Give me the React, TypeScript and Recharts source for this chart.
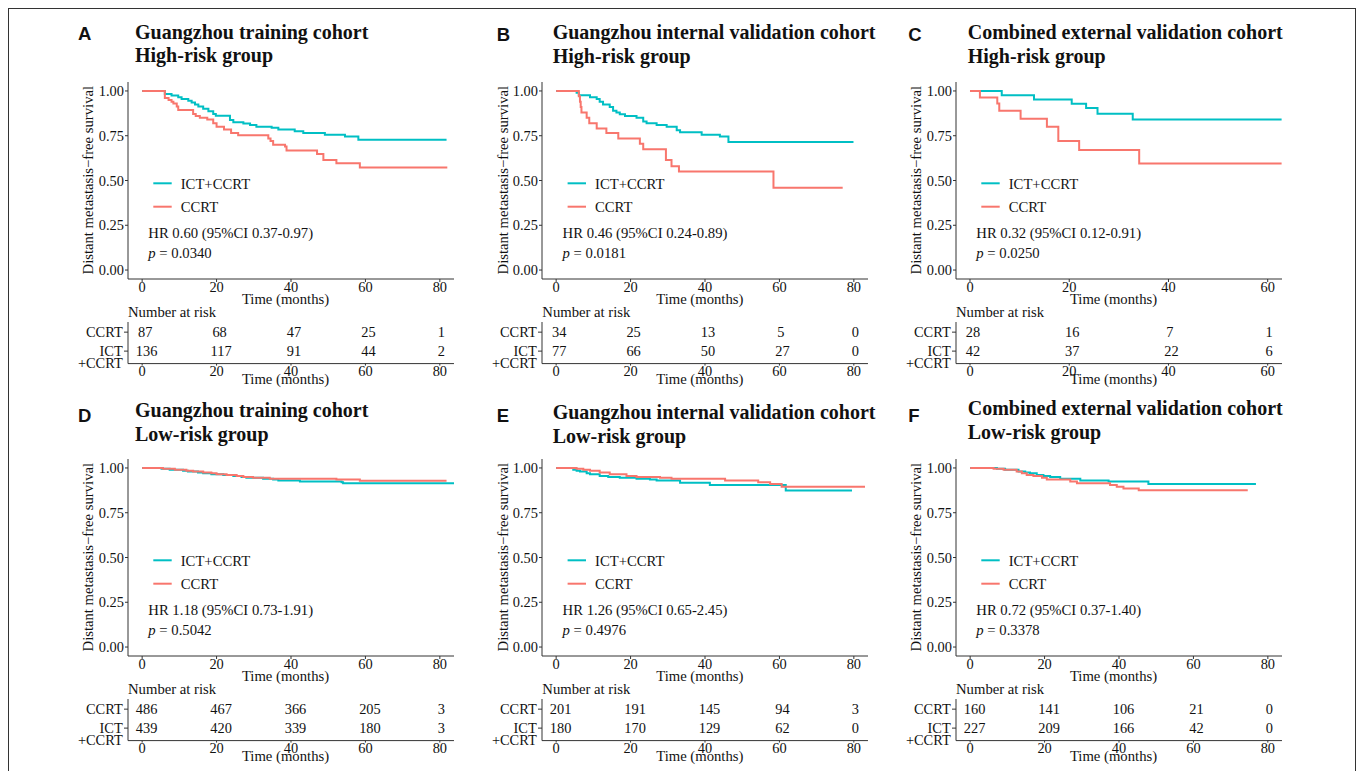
import React from 'react';
import { LineChart, Line, XAxis, YAxis, ScatterChart, Scatter } from 'recharts';

// ---- data ----
const groups = ['ICT+CCRT', 'CCRT'];
const groupColors = ['#00BFC4', '#F8766D'];
const survTicks = [0, 0.25, 0.5, 0.75, 1];
const months80 = [0, 20, 40, 60, 80];
const months60 = [0, 20, 40, 60];

// Kaplan-Meier steps: [time (months), survival]
const kmA_ict = [[0, 1], [6.1, 0.983], [7.9, 0.974], [9.7, 0.965], [10.6, 0.955], [12.4, 0.946], [13.3, 0.935], [14.2, 0.924], [15.1, 0.913], [16.4, 0.9], [17.8, 0.887], [19.1, 0.872], [19.8, 0.862], [23.6, 0.838], [24.5, 0.825], [27.2, 0.818], [29, 0.81], [30.7, 0.8], [34.8, 0.795], [36.6, 0.785], [41, 0.775], [43.3, 0.765], [49.1, 0.755], [54.5, 0.745], [58.1, 0.727], [81.8, 0.727]];
const kmA_ccrt = [[0, 1], [6.1, 0.96], [7.1, 0.95], [7.9, 0.94], [8.4, 0.93], [9.3, 0.913], [9.7, 0.894], [13.7, 0.872], [14.4, 0.86], [15.5, 0.85], [17.5, 0.84], [19.1, 0.82], [20, 0.8], [22, 0.785], [23.9, 0.765], [25.8, 0.752], [33.9, 0.735], [34.5, 0.72], [35.2, 0.7], [38.4, 0.69], [38.8, 0.667], [47, 0.648], [48.7, 0.615], [52.2, 0.597], [58.5, 0.572], [82, 0.572]];

const kmB_ict = [[0, 1], [5.5, 0.99], [6.1, 0.976], [9.1, 0.965], [10.9, 0.955], [11.7, 0.94], [12.6, 0.925], [14.4, 0.91], [15.3, 0.89], [16.2, 0.88], [17.1, 0.87], [18.5, 0.86], [21.6, 0.85], [23.4, 0.83], [24.3, 0.82], [27, 0.81], [29.7, 0.8], [32.4, 0.78], [33.3, 0.77], [39.1, 0.755], [44, 0.745], [46.3, 0.715], [79.9, 0.715]];
const kmB_ccrt = [[0, 1], [6.1, 0.97], [6.4, 0.94], [6.6, 0.91], [6.8, 0.88], [8.2, 0.85], [8.9, 0.82], [10.9, 0.79], [13.5, 0.765], [16.7, 0.735], [22.5, 0.705], [23.4, 0.675], [29.5, 0.615], [31, 0.58], [33, 0.55], [58.4, 0.46], [77, 0.46]];

const kmC_ict = [[0, 1], [6.4, 0.976], [12.9, 0.952], [20.5, 0.928], [23.4, 0.905], [25.7, 0.873], [32.8, 0.84], [62.8, 0.84]];
const kmC_ccrt = [[0, 1], [2, 0.964], [5.5, 0.93], [5.9, 0.89], [10.2, 0.845], [15.5, 0.8], [17.8, 0.72], [22, 0.67], [34.1, 0.595], [62.8, 0.595]];

const kmD_ict = [[0, 1], [5.2, 0.995], [7.4, 0.99], [11, 0.985], [12.3, 0.98], [15, 0.975], [16.4, 0.97], [18.6, 0.965], [21.8, 0.96], [24.5, 0.955], [26.7, 0.95], [28, 0.945], [32.5, 0.94], [35.2, 0.935], [36.6, 0.93], [42.4, 0.925], [53.6, 0.92], [54, 0.915], [83.8, 0.915]];
const kmD_ccrt = [[0, 1], [5.6, 0.995], [8.8, 0.99], [11.9, 0.985], [13.7, 0.98], [16.4, 0.975], [18.6, 0.97], [20, 0.965], [22.7, 0.96], [25.4, 0.955], [27.2, 0.95], [29.8, 0.945], [34.3, 0.94], [52.2, 0.935], [58.5, 0.928], [81.8, 0.928]];

const kmE_ict = [[0, 1], [4.6, 0.99], [5.5, 0.985], [6.4, 0.98], [8.2, 0.97], [9.1, 0.965], [11.7, 0.955], [14, 0.95], [17.1, 0.945], [21.6, 0.94], [25.2, 0.935], [27, 0.93], [33.3, 0.918], [41.3, 0.905], [61.7, 0.874], [79.5, 0.874]];
const kmE_ccrt = [[0, 1], [5.5, 0.995], [7.3, 0.99], [9.1, 0.985], [11.7, 0.975], [14.4, 0.965], [18.9, 0.955], [21.6, 0.95], [27.9, 0.945], [31, 0.94], [45.4, 0.93], [54.3, 0.92], [57.5, 0.91], [60.6, 0.895], [83, 0.895]];

const kmF_ict = [[0, 1], [7.2, 0.995], [9.4, 0.99], [13, 0.98], [14.8, 0.975], [16.1, 0.97], [17.9, 0.96], [19.7, 0.955], [21.5, 0.95], [24.2, 0.94], [29.6, 0.93], [37.2, 0.925], [47.9, 0.91], [76.8, 0.91]];
const kmF_ccrt = [[0, 1], [6.3, 0.995], [9, 0.99], [12.5, 0.98], [13.9, 0.97], [15.2, 0.96], [17, 0.955], [19.3, 0.945], [20.6, 0.935], [26.9, 0.925], [28.7, 0.915], [37.6, 0.905], [39.4, 0.895], [41.2, 0.885], [45.3, 0.875], [74.6, 0.875]];

// numbers at risk, at months80 / months60
const riskA_ccrt = [87, 68, 47, 25, 1];
const riskA_ict = [136, 117, 91, 44, 2];
const riskB_ccrt = [34, 25, 13, 5, 0];
const riskB_ict = [77, 66, 50, 27, 0];
const riskC_ccrt = [28, 16, 7, 1];
const riskC_ict = [42, 37, 22, 6];
const riskD_ccrt = [486, 467, 366, 205, 3];
const riskD_ict = [439, 420, 339, 180, 3];
const riskE_ccrt = [201, 191, 145, 94, 3];
const riskE_ict = [180, 170, 129, 62, 0];
const riskF_ccrt = [160, 141, 106, 21, 0];
const riskF_ict = [227, 209, 166, 42, 0];

const cohorts = ['Guangzhou training cohort', 'Guangzhou internal validation cohort', 'Combined external validation cohort'];
const riskGroups = ['High-risk group', 'Low-risk group'];
const hrTexts = ['HR 0.60 (95%CI 0.37-0.97)', 'HR 0.46 (95%CI 0.24-0.89)', 'HR 0.32 (95%CI 0.12-0.91)', 'HR 1.18 (95%CI 0.73-1.91)', 'HR 1.26 (95%CI 0.65-2.45)', 'HR 0.72 (95%CI 0.37-1.40)'];
const pValues = ['0.0340', '0.0181', '0.0250', '0.5042', '0.4976', '0.3378'];

const panels = [
  { letter: 'A', cohort: 0, group: 0, ict: kmA_ict, ccrt: kmA_ccrt, riskCcrt: riskA_ccrt, riskIct: riskA_ict, ticks: months80 },
  { letter: 'B', cohort: 1, group: 0, ict: kmB_ict, ccrt: kmB_ccrt, riskCcrt: riskB_ccrt, riskIct: riskB_ict, ticks: months80 },
  { letter: 'C', cohort: 2, group: 0, ict: kmC_ict, ccrt: kmC_ccrt, riskCcrt: riskC_ccrt, riskIct: riskC_ict, ticks: months60 },
  { letter: 'D', cohort: 0, group: 1, ict: kmD_ict, ccrt: kmD_ccrt, riskCcrt: riskD_ccrt, riskIct: riskD_ict, ticks: months80 },
  { letter: 'E', cohort: 1, group: 1, ict: kmE_ict, ccrt: kmE_ccrt, riskCcrt: riskE_ccrt, riskIct: riskE_ict, ticks: months80 },
  { letter: 'F', cohort: 2, group: 1, ict: kmF_ict, ccrt: kmF_ccrt, riskCcrt: riskF_ccrt, riskIct: riskF_ict, ticks: months80 },
];

// ---- layout ----
const SERIF = '"Liberation Serif", "Times New Roman", serif';
const SANS = '"Liberation Sans", Arial, sans-serif';
const INK = '#111';
const AXIS = '#333';
const FS = 14.7;
const TICK_FS = 14.4;

const colX = [128, 542.3, 956];
const titleX = [135, 552.7, 967.7];
const letterX = [78, 496.7, 908.3];
const rowDy = [0, 377];
const PLOT_W = 326;
const PLOT_H = 197;
const PLOT_TOP = 81.7;
const TABLE_TOP = 321.7;
const TABLE_H = 41.6;
const Y_AXIS_W = 60;
const RIGHT_PAD = 10;

const titleBase = [[38.5, 39, 39.3], [417.3, 419.3, 415]];
const letterBase = [[40, 40.7, 40.7], [421.7, 421.7, 421.7]];

const xDomain = (ticks: number[]) => (ticks.length === 4 ? [-2.82, 62.88] : [-3.8, 83.8]);

const tickStyle = { fill: INK, fontSize: TICK_FS, fontFamily: SERIF };

const RowTick = (props: any) => {
  const { x, y, payload } = props;
  const lines = payload.value === 2 ? ['CCRT'] : ['ICT', '+CCRT'];
  return (
    <text x={x} y={y} textAnchor="end" fill={INK} fontSize={TICK_FS} fontFamily={SERIF}>
      {lines.map((l, i) => (
        <tspan key={i} x={x} dy={i === 0 ? '0.355em' : 11.5}>{l}</tspan>
      ))}
    </text>
  );
};

const RiskCell = (props: any) => {
  const { cx, cy, payload } = props;
  const s = String(payload.n);
  return (
    <text x={cx + 1.5 * s.length} y={cy} dy="0.355em" textAnchor="middle" fill={INK} fontSize={TICK_FS} fontFamily={SERIF}>
      {s}
    </text>
  );
};

function KMPanel({ p }: { p: any }) {
  const ax = colX[p.cohort];
  const dy = rowDy[p.group];
  const plotTop = PLOT_TOP + dy;
  const tableTop = TABLE_TOP + dy;
  const dom = xDomain(p.ticks);
  const series = [p.ict, p.ccrt].map((km: number[][]) => km.map(([t, s]) => ({ t, s })));
  const table = [
    ...p.riskCcrt.map((n: number, i: number) => ({ t: p.ticks[i], row: 2, n })),
    ...p.riskIct.map((n: number, i: number) => ({ t: p.ticks[i], row: 1, n })),
  ];
  const width = Y_AXIS_W + PLOT_W + RIGHT_PAD;
  return (
    <>
      <div style={{ position: 'absolute', left: ax - Y_AXIS_W, top: plotTop - 5 }}>
        <LineChart width={width} height={5 + PLOT_H + 25} margin={{ top: 5, right: RIGHT_PAD, bottom: 0, left: 0 }}>
          <XAxis type="number" dataKey="t" domain={dom} ticks={p.ticks} allowDataOverflow interval={0}
            height={25} tickSize={3} tickMargin={0} stroke={AXIS} tick={tickStyle} />
          <YAxis type="number" domain={[-0.05, 1.05]} ticks={survTicks} allowDataOverflow interval={0}
            width={Y_AXIS_W} tickSize={3} tickMargin={1} stroke={AXIS} tick={tickStyle}
            tickFormatter={(v: number) => v.toFixed(2)} />
          {series.map((d: any, i: number) => (
            <Line key={groups[i]} data={d} dataKey="s" name={groups[i]} type="stepAfter" stroke={groupColors[i]}
              strokeWidth={2} dot={false} activeDot={false} isAnimationActive={false} />
          ))}
        </LineChart>
      </div>
      <div style={{ position: 'absolute', left: ax - Y_AXIS_W, top: tableTop }}>
        <ScatterChart width={width} height={TABLE_H + 25} margin={{ top: 0, right: RIGHT_PAD, bottom: 0, left: 0 }}>
          <XAxis type="number" dataKey="t" domain={dom} ticks={p.ticks} allowDataOverflow interval={0}
            height={25} tickSize={2} tickMargin={0} stroke={AXIS} tick={tickStyle} />
          <YAxis type="number" dataKey="row" domain={[0.342, 2.535]} ticks={[1, 2]} allowDataOverflow interval={0}
            width={Y_AXIS_W} tickSize={4} tickMargin={1.3} stroke={AXIS} tick={<RowTick />} />
          <Scatter data={table} shape={<RiskCell />} isAnimationActive={false} />
        </ScatterChart>
      </div>
    </>
  );
}

function PanelText({ p }: { p: any }) {
  const ax = colX[p.cohort];
  const dy = rowDy[p.group];
  const idx = p.group * 3 + p.cohort;
  const tb = titleBase[p.group][p.cohort];
  const txt = { fill: INK, fontSize: FS, fontFamily: SERIF };
  return (
    <g>
      <text x={letterX[p.cohort]} y={letterBase[p.group][p.cohort]} fontFamily={SANS} fontWeight="bold" fontSize={18.5} fill={INK}>{p.letter}</text>
      <text x={titleX[p.cohort]} y={tb} fontFamily={SERIF} fontWeight="bold" fontSize={20} fill={INK}>{cohorts[p.cohort]}</text>
      <text x={titleX[p.cohort]} y={tb + 23.8} fontFamily={SERIF} fontWeight="bold" fontSize={20} fill={INK}>{riskGroups[p.group]}</text>
      <text transform={`translate(${ax - 34.7}, ${PLOT_TOP + dy + PLOT_H / 2}) rotate(-90)`} textAnchor="middle" {...txt}>
        Distant metastasis−free survival
      </text>
      <text x={ax + 157.5} y={303.5 + dy} textAnchor="middle" {...txt}>Time (months)</text>
      {groups.map((g, i) => (
        <g key={g}>
          <line x1={ax + 25.3} x2={ax + 43.7} y1={183.3 + 23.4 * i + dy} y2={183.3 + 23.4 * i + dy} stroke={groupColors[i]} strokeWidth={2} />
          <text x={ax + 52.7} y={188.5 + 23.4 * i + dy} {...txt}>{g}</text>
        </g>
      ))}
      <text x={ax + 20.3} y={238.3 + dy} {...txt}>{hrTexts[idx]}</text>
      <text x={ax + 20.3} y={258.3 + dy} {...txt}>
        <tspan fontStyle="italic">p</tspan> = {pValues[idx]}
      </text>
      <text x={ax} y={316.8 + dy} {...txt}>Number at risk</text>
      <text x={ax + 157.5} y={383.8 + dy} textAnchor="middle" {...txt}>Time (months)</text>
    </g>
  );
}

export default function App() {
  return (
    <div style={{ position: 'absolute', left: 0, top: 0, width: 1357, height: 771, overflow: 'hidden', background: '#fff' }}>
      <div style={{ position: 'absolute', left: 8, top: 8, width: 1348, height: 800, boxSizing: 'border-box', borderTop: '1px solid #333', borderLeft: '1px solid #333', borderRight: '1px solid #333' }} />
      {panels.map((p) => <KMPanel key={p.letter} p={p} />)}
      <svg width={1357} height={771} style={{ position: 'absolute', left: 0, top: 0, pointerEvents: 'none' }}>
        {panels.map((p) => <PanelText key={p.letter} p={p} />)}
      </svg>
    </div>
  );
}
